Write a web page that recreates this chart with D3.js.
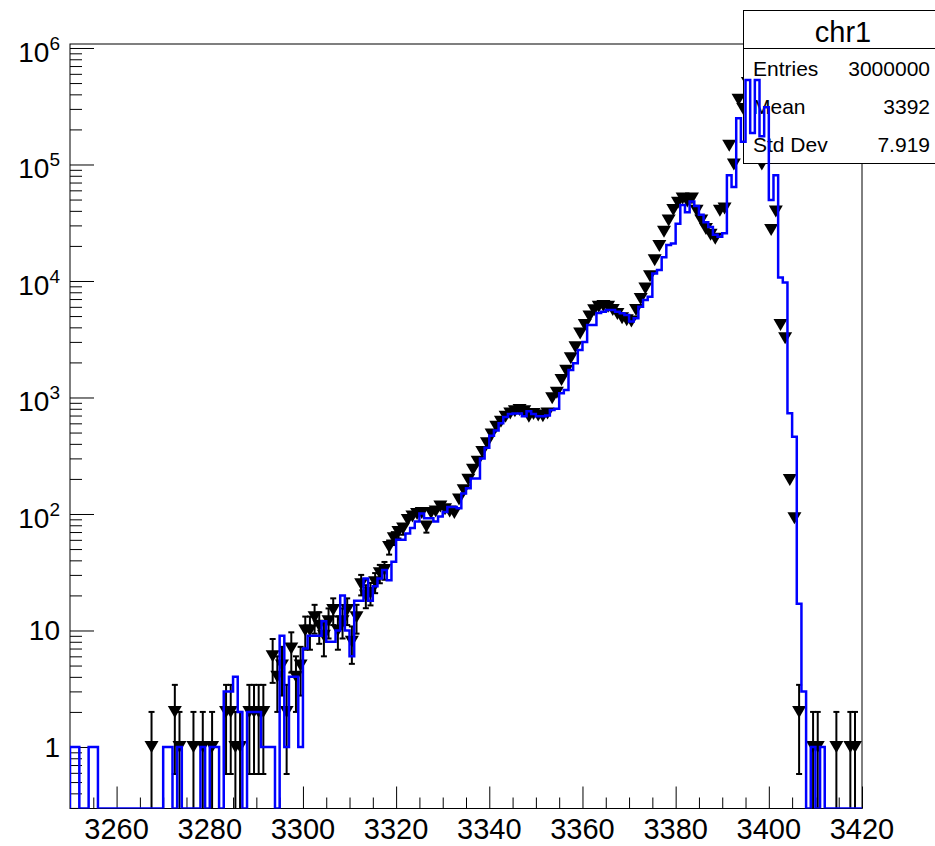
<!DOCTYPE html>
<html lang="en">
  <head>
    <meta charset="UTF-8" />
    <title>chr1</title>
    <script src="https://d3js.org/d3.v7.min.js"></script>
    <style>
      body {
        margin: 0;
        background: #fff;
      }
      svg {
        display: block;
      }
      text {
        font-family: "Liberation Sans", Arial, sans-serif;
        fill: #000;
      }
    </style>
  </head>
  <body>
    <script>
      // bins of width 1 from 3250 to 3420
      const binLow = 3250;
      const binHigh = 3420;

      const blueCounts = [
        1, 1, 0, 0, 1, 1, 0, 0, 0, 0,
        0, 0, 0, 0, 0, 0, 0, 0, 0, 0,
        1, 1, 0, 1, 0, 0, 0, 0, 1, 0,
        1, 1, 0, 3, 3, 4, 2, 0, 2, 2,
        2, 1, 1, 1, 0, 9, 1, 4, 4, 1,
        7, 9, 9, 9, 12, 8, 8, 10, 20, 10,
        6, 18, 18, 28, 18, 24, 28, 33, 27, 39,
        60, 60, 68, 76, 86, 101, 92, 92, 86, 95,
        104, 115, 115, 112, 150, 166, 202, 202, 300, 370,
        470, 520, 600, 680, 720, 730, 730, 690, 760, 720,
        690, 690, 700, 780, 800, 1090, 1160, 1720, 1970, 2560,
        3000, 4200, 4200, 5300, 5450, 5640, 5640, 5450, 5280, 5100,
        4480, 4780, 6020, 6870, 7330, 11600, 12400, 16000, 20400, 21000,
        31000, 45000, 39000, 48000, 44000, 37000, 32000, 29000, 25000, 24000,
        25700, 81000, 64000, 250000, 157000, 530000, 186000, 530000, 175000, 310000,
        49600, 81000, 10700, 9700, 731, 461, 17, 3, 0, 1,
        0, 1, 0, 0, 0, 0, 0, 0, 0, 0,
      ];

      const blackCounts = [
        0, 0, 0, 0, 0, 0, 0, 0, 0, 0,
        0, 0, 0, 0, 0, 0, 0, 1, 0, 0,
        0, 0, 2, 1, 0, 0, 1, 0, 1, 0,
        1, 0, 0, 2, 2, 1, 1, 0, 2, 2,
        2, 2, 0, 6, 4, 5, 2, 7, 4, 5,
        10, 10, 13, 11, 9, 12, 15, 10, 12, 15,
        8, 13, 25, 20, 21, 26, 31, 33, 52, 62,
        70, 75, 89, 95, 100, 102, 78, 102, 105, 116,
        110, 105, 102, 133, 160, 197, 240, 281, 340, 405,
        480, 560, 620, 685, 730, 760, 780, 760, 685, 720,
        700, 690, 730, 985, 1100, 1410, 1700, 2170, 2700, 3550,
        4200, 4950, 5600, 6020, 6100, 6020, 5640, 5200, 4780, 4600,
        4480, 5640, 7000, 8630, 11000, 15100, 20000, 26500, 33000, 40700,
        47000, 51000, 48000, 51000, 40000, 33000, 28000, 25000, 23000, 40000,
        42000, 145000, 100000, 360000, 300000, 500000, 350000, 450000, 100000, 150000,
        27400, 39400, 4190, 3220, 196, 92, 2, 0, 0, 1,
        1, 0, 0, 0, 1, 0, 0, 1, 1, 0,
      ];

      const xMajorTicks = [3260, 3280, 3300, 3320, 3340, 3360, 3380, 3400, 3420];
      const xTickLabels = ["3260", "3280", "3300", "3320", "3340", "3360", "3380", "3400", "3420"];
      const yMajorTicks = [1, 10, 100, 1e3, 1e4, 1e5, 1e6];
      const yTickLabels = [
        { base: "1" },
        { base: "10" },
        { base: "10", exp: "2" },
        { base: "10", exp: "3" },
        { base: "10", exp: "4" },
        { base: "10", exp: "5" },
        { base: "10", exp: "6" },
      ];

      const statsTitle = "chr1";
      const statsRows = [
        ["Entries", "3000000"],
        ["Mean", "3392"],
        ["Std Dev", "7.919"],
      ];

      const width = 935;
      const height = 846;
      const frame = { left: 70, right: 862, top: 44, bottom: 808.5 };

      draw();

      function draw() {
        const svg = d3
          .select("body")
          .append("svg")
          .attr("width", width)
          .attr("height", height);

        const x = d3.scaleLinear().domain([binLow, binHigh]).range([frame.left, frame.right]);
        const y = d3.scaleLog().domain([0.2965, 1.082e6]).range([frame.bottom, frame.top]);

        svg
          .append("defs")
          .append("clipPath")
          .attr("id", "plot")
          .append("rect")
          .attr("x", frame.left)
          .attr("y", frame.top)
          .attr("width", frame.right - frame.left)
          .attr("height", frame.bottom - frame.top);

        // frame
        svg
          .append("rect")
          .attr("x", frame.left)
          .attr("y", frame.top)
          .attr("width", frame.right - frame.left)
          .attr("height", frame.bottom - frame.top)
          .attr("fill", "none")
          .attr("stroke", "#000")
          .attr("stroke-width", 1);

        // x axis ticks
        const xMinor = d3.range(binLow, binHigh + 1, 5).filter((v) => v % 20 !== 0);
        const gx = svg.append("g").attr("transform", `translate(0,${frame.bottom})`);
        gx.append("g").call(d3.axisBottom(x).tickValues(xMajorTicks).tickSize(-22).tickFormat(""));
        gx.append("g").call(d3.axisBottom(x).tickValues(xMinor).tickSize(-11).tickFormat(""));
        gx.selectAll(".domain").remove();

        svg
          .append("g")
          .selectAll("text")
          .data(xMajorTicks)
          .join("text")
          .attr("x", (d) => x(d))
          .attr("y", 839)
          .attr("text-anchor", "middle")
          .style("font-size", "29px")
          .text((d, i) => xTickLabels[i]);

        // y axis ticks
        const yMinor = [];
        for (let e = -1; e < 6; e++) {
          for (let k = 2; k <= 9; k++) {
            const v = k * Math.pow(10, e);
            if (v > y.domain()[0] && v < y.domain()[1]) yMinor.push(v);
          }
        }
        const gy = svg.append("g").attr("transform", `translate(${frame.left},0)`);
        gy.append("g").call(d3.axisLeft(y).tickValues(yMajorTicks).tickSize(-24).tickFormat(""));
        gy.append("g").call(d3.axisLeft(y).tickValues(yMinor).tickSize(-12).tickFormat(""));
        gy.selectAll(".domain").remove();
        svg.selectAll(".tick line").attr("stroke", "#000");

        const yLabels = svg
          .append("g")
          .selectAll("text")
          .data(yMajorTicks)
          .join("text")
          .attr("x", 60)
          .attr("y", (d, i) => y(d) + (yTickLabels[i].exp ? 14 : 10))
          .attr("text-anchor", "end")
          .style("font-size", "28px");
        yLabels.append("tspan").text((d, i) => yTickLabels[i].base);
        yLabels
          .filter((d, i) => yTickLabels[i].exp)
          .append("tspan")
          .attr("dy", -12)
          .style("font-size", "19px")
          .text((d) => yTickLabels[yMajorTicks.indexOf(d)].exp);

        // black points with sqrt(n) errors
        const pts = blackCounts
          .map((n, i) => ({ c: binLow + i + 0.5, n }))
          .filter((d) => d.n > 0);
        const gp = svg.append("g").attr("clip-path", "url(#plot)");
        const yLow = (v) => (v > y.domain()[0] ? y(v) : frame.bottom + 5);

        pts.forEach((d) => {
          const cx = x(d.c);
          const cy = y(d.n);
          const e = Math.sqrt(d.n);
          const yu = y(d.n + e);
          const yd = yLow(d.n - e);
          if (cy - yu > 6) {
            gp.append("line").attr("x1", cx).attr("x2", cx).attr("y1", cy).attr("y2", yu);
            gp.append("line").attr("x1", cx - 3).attr("x2", cx + 3).attr("y1", yu).attr("y2", yu);
          }
          if (yd - cy > 6) {
            gp.append("line").attr("x1", cx).attr("x2", cx).attr("y1", cy).attr("y2", yd);
            gp.append("line").attr("x1", cx - 3).attr("x2", cx + 3).attr("y1", yd).attr("y2", yd);
          }
        });
        gp.selectAll("line").attr("stroke", "#000").attr("stroke-width", 2);

        gp.selectAll("path")
          .data(pts)
          .join("path")
          .attr("d", (d) => {
            const cx = x(d.c);
            const cy = y(d.n);
            return `M${cx - 7},${cy - 6}L${cx + 7},${cy - 6}L${cx},${cy + 6}Z`;
          })
          .attr("fill", "#000");

        // stats box
        const box = svg.append("g");
        box
          .append("rect")
          .attr("x", 743.5)
          .attr("y", 10.5)
          .attr("width", 200)
          .attr("height", 153)
          .attr("fill", "#fff")
          .attr("stroke", "#000");
        box
          .append("line")
          .attr("x1", 743.5)
          .attr("x2", 943)
          .attr("y1", 48.5)
          .attr("y2", 48.5)
          .attr("stroke", "#000");
        box
          .append("text")
          .attr("x", 843)
          .attr("y", 42)
          .attr("text-anchor", "middle")
          .style("font-size", "29px")
          .text(statsTitle);
        statsRows.forEach((r, i) => {
          const by = 76 + i * 37.8;
          box.append("text").attr("x", 753).attr("y", by).style("font-size", "21px").text(r[0]);
          box
            .append("text")
            .attr("x", 930)
            .attr("y", by)
            .attr("text-anchor", "end")
            .style("font-size", "21px")
            .text(r[1]);
        });

        // blue histogram outline, empty bins drawn on the frame bottom
        const yBar = (v) => (v > 0 ? y(v) : frame.bottom);
        const outline = [[x(binLow), frame.bottom]];
        blueCounts.forEach((v, i) => {
          outline.push([x(binLow + i), yBar(v)]);
          outline.push([x(binLow + i + 1), yBar(v)]);
        });
        outline.push([x(binHigh), frame.bottom]);

        svg
          .append("path")
          .attr("clip-path", "url(#plot)")
          .attr("d", d3.line()(outline))
          .attr("fill", "none")
          .attr("stroke", "#0000ff")
          .attr("stroke-width", 2.5);
      }
    </script>
  </body>
</html>
